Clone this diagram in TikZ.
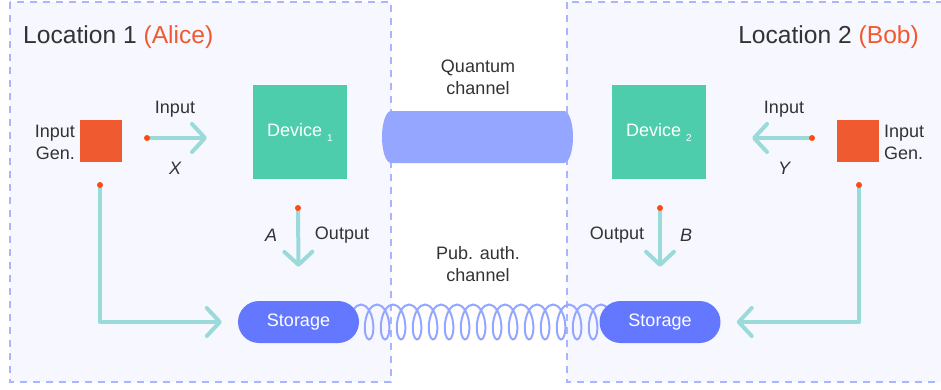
\documentclass[tikz,border=0pt]{standalone}
\usepackage{fontspec}
\setmainfont{Liberation Sans}
\usetikzlibrary{arrows.meta,decorations.pathmorphing,backgrounds}
\definecolor{txt}{HTML}{333333}
\definecolor{alice}{HTML}{F05A30}
\definecolor{genc}{HTML}{F05A30}
\definecolor{devc}{HTML}{4ECDAC}
\definecolor{qch}{HTML}{94A6FF}
\definecolor{storc}{HTML}{6478FF}
\definecolor{arrc}{HTML}{9ADAD8}
\definecolor{dashc}{HTML}{AAB5FF}
\definecolor{locc}{HTML}{F7F8FF}
\definecolor{dotc}{HTML}{FF4A10}
\newcommand{\devsub}[1]{\raisebox{-5pt}{\fontsize{10}{10}\selectfont #1}}
\tikzset{
  locbox/.style={draw=dashc, fill=locc, line width=2pt, dash pattern=on 7pt off 6pt},
  genbox/.style={fill=genc, minimum size=42pt, inner sep=0pt},
  devbox/.style={fill=devc, minimum size=94pt, inner sep=0pt, text=white},
  storbox/.style={fill=storc, minimum width=121pt, minimum height=42pt, rounded corners=21pt, text=white, inner sep=0pt},
  arr/.style={draw=arrc, line width=4pt, line cap=round, line join=round, -{Straight Barb[length=13pt,width=28pt,line cap=round,line join=round]}},
  reddot/.style={fill=dotc},
  lbl/.style={text=txt, align=center, inner sep=0pt},
  coilline/.style={draw=qch, line width=2pt, decorate, decoration={coil, amplitude=17.5pt, segment length=16pt, aspect=0.45}}
}
\begin{document}
\begin{tikzpicture}[x=1pt,y=-1pt, font=\fontsize{18}{22}\selectfont, text=txt]
\useasboundingbox (0,0) rectangle (941,389);
\clip (0,0) rectangle (941,389);

% titles
\node[lbl, anchor=west, font=\fontsize{24.6}{28}\selectfont] (t1) at (23,37) {Location 1 \textcolor{alice}{(Alice)}};
\node[lbl, anchor=east, font=\fontsize{24.6}{28}\selectfont] (t2) at (919,37) {Location 2 \textcolor{alice}{(Bob)}};

% input generators
\node[genbox] (g1) at (101,141) {};
\node[genbox] (g2) at (858,141) {};
\node[lbl, anchor=east, align=right] (g1l) at (75,142) {Input\\Gen.};
\node[lbl, anchor=west, align=left] (g2l) at (884,142) {Input\\Gen.};

% devices
\node[devbox] (d1) at (300,132) {Device \devsub{1}};
\node[devbox] (d2) at (659,132) {Device \devsub{2}};

% quantum channel
\fill[qch] (391,111) -- (564,111) arc[start angle=-90, end angle=90, x radius=9, y radius=26]
  -- (391,163) arc[start angle=90, end angle=270, x radius=9, y radius=26] -- cycle;
\node[lbl] (qcl) at (478,77) {Quantum\\channel};
\node[lbl] (pcl) at (478,264) {Pub. auth.\\channel};

% storages
\node[storbox] (s1) at (298.5,322) {Storage};
\node[storbox] (s2) at (660,322) {Storage};

\begin{scope}[on background layer]
  \fill[white] (0,0) rectangle (941,389);
  \draw[locbox] (10,2) rectangle (391,382);
  \draw[locbox] (567,2) rectangle (960,382);
  \draw[coilline] ([xshift=-10pt]s1.east) -- ([xshift=16pt]s2.west);
\end{scope}

% input arrows
\coordinate (x1s) at (147,138);
\coordinate (x1e) at (207,138);
\coordinate (y1s) at (812,138);
\coordinate (y1e) at (752,138);
\draw[arr] (x1s) -- (x1e);
\draw[arr] (y1s) -- (y1e);
\node[lbl] (in1) at (175,109) {Input};
\node[lbl] (in2) at (784,109) {Input};
\node[lbl] (xl) at (175,168) {\itshape X};
\node[lbl] (yl) at (784,168) {\itshape Y};

% output arrows
\coordinate (a1s) at (298,208);
\coordinate (b1s) at (660,208);
\draw[arr] (a1s) -- ([yshift=34pt]s1.north);
\draw[arr] (b1s) -- ([yshift=34pt]s2.north);
\node[lbl] (al) at (271,235) {\itshape A};
\node[lbl] (o1) at (342,235) {Output};
\node[lbl] (o2) at (617,235) {Output};
\node[lbl] (bl) at (686,235) {\itshape B};

% generator to storage
\coordinate (l1s) at (100,185);
\coordinate (l2s) at (859,185);
\draw[arr] (l1s) |- ([xshift=-16pt]s1.west);
\draw[arr] (l2s) |- ([xshift=16pt]s2.east);

% red dots
\foreach \p in {x1s,y1s,a1s,b1s,l1s,l2s} \fill[reddot] (\p) circle (3);
\end{tikzpicture}
\end{document}
